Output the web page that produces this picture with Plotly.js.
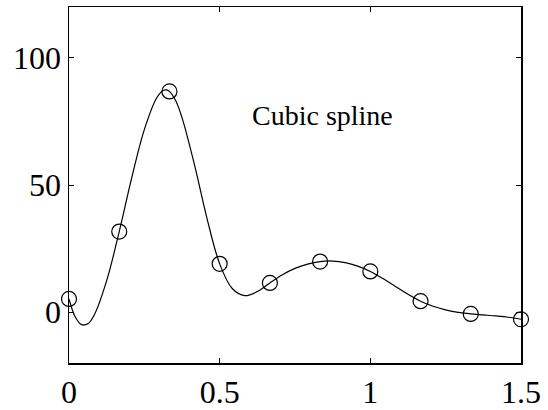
<!DOCTYPE html>
<html>
<head>
<meta charset="utf-8">
<script src="https://cdn.plot.ly/plotly-3.0.1.min.js"></script>
<style>html,body{margin:0;padding:0;background:#fff;}#chart{width:548px;height:410px;}</style>
</head>
<body>
<div id="chart"></div>
<script>
// Data points (circles)
var pointX = [0, 0.1667, 0.3333, 0.5, 0.6667, 0.8333, 1.0, 1.1667, 1.3333, 1.5];
var pointY = [5.2, 31.7, 86.8, 19.0, 11.5, 19.9, 16.0, 4.3, -0.7, -2.8];

// Curve (cubic spline line)
var curveX = [0, 0.0208, 0.0417, 0.0625, 0.0833, 0.125, 0.1667, 0.2083, 0.25, 0.2917, 0.3125, 0.3229, 0.3333,
  0.3542, 0.375, 0.4167, 0.4583, 0.5, 0.5417, 0.5833, 0.625, 0.6667, 0.7083, 0.75, 0.7917, 0.8333,
  0.875, 0.9167, 0.9583, 1.0, 1.0417, 1.0833, 1.125, 1.1667, 1.2083, 1.25, 1.2917, 1.3333,
  1.375, 1.4167, 1.4583, 1.5];
var curveY = [5.2, -1.9, -4.9, -4.6, -1.2, 12.4, 31.7, 52.9, 71.8, 84.4, 87.2, 87.4, 86.8,
  83.1, 76.5, 57.8, 36.7, 19.0, 9.3, 6.5, 8.1, 11.5, 14.7, 17.2, 18.9, 19.9,
  20.1, 19.5, 18.1, 16.0, 13.2, 10.1, 7.0, 4.3, 2.3, 0.9, -0.1, -0.7,
  -1.1, -1.5, -2.0, -2.8];

var xTicks = [0, 0.5, 1, 1.5];
var xTickText = ['0', '0.5', '1', '1.5'];
var yTicks = [0, 50, 100];
var yTickText = ['0', '50', '100'];
var label = 'Cubic spline';

var FONT = 'Liberation Serif, Times New Roman, serif';

var traces = [
  {x: curveX, y: curveY, mode: 'lines', line: {color: '#000', width: 1.2, shape: 'spline', smoothing: 1}, cliponaxis: false, hoverinfo: 'skip'},
  {x: pointX, y: pointY, mode: 'markers', marker: {symbol: 'circle-open', size: 15, color: '#000', line: {width: 1.2, color: '#000'}}, cliponaxis: false}
];

var axisCommon = {
  showline: true, linecolor: '#000', linewidth: 1.5, mirror: 'ticks',
  ticks: 'inside', ticklen: 5, tickwidth: 1, tickcolor: '#000',
  showgrid: false, zeroline: false,
  tickfont: {family: FONT, size: 32, color: '#000'}
};

var layout = {
  width: 548, height: 410,
  margin: {l: 69, r: 27, t: 7, b: 47},
  paper_bgcolor: '#fff', plot_bgcolor: '#fff',
  showlegend: false,
  font: {family: FONT, color: '#000'},
  xaxis: Object.assign({}, axisCommon, {range: [0, 1.5], tickvals: xTicks, ticktext: xTickText}),
  yaxis: Object.assign({}, axisCommon, {range: [-20, 120], tickvals: yTicks, ticktext: yTickText}),
  annotations: [{x: 0.601, y: 77.5, xref: 'x', yref: 'y', text: label, showarrow: false,
    xanchor: 'left', yanchor: 'middle', font: {family: FONT, size: 28, color: '#000'}}]
};

Plotly.newPlot('chart', traces, layout, {staticPlot: true, displayModeBar: false});
</script>
</body>
</html>
